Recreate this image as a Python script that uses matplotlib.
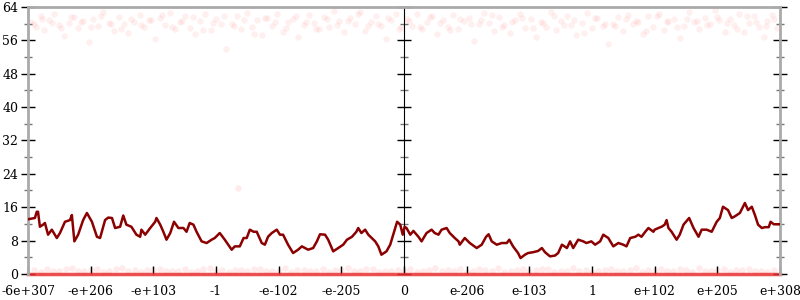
import matplotlib
matplotlib.use('Agg')
import matplotlib.pyplot as plt
from matplotlib.ticker import MultipleLocator

plt.rcParams['font.family'] = ['DejaVu Serif']
plt.rcParams['font.size'] = 9

# tick positions along the x scale and their labels
tick_pos = [-6, -5, -4, -3, -2, -1, 0, 1, 2, 3, 4, 5, 6]
tick_labels = ['-6e+307', '-e+206', '-e+103', '-1', '-e-102', '-e-205', '0',
               'e-206', 'e-103', '1', 'e+102', 'e+205', 'e+308']

# running line
line_x = [-6.00, -5.89, -5.86, -5.84, -5.81, -5.76, -5.73, -5.68, -5.62, -5.54, -5.49, -5.41,
          -5.33, -5.30, -5.26, -5.20, -5.12, -5.06, -4.98, -4.90, -4.85, -4.77, -4.72, -4.66,
          -4.61, -4.53, -4.48, -4.43, -4.35, -4.27, -4.21, -4.19, -4.13, -4.05, -3.97, -3.95,
          -3.89, -3.84, -3.79, -3.73, -3.67, -3.60, -3.52, -3.47, -3.42, -3.36, -3.31, -3.23,
          -3.15, -3.07, -3.02, -2.94, -2.86, -2.75, -2.70, -2.62, -2.56, -2.51, -2.46, -2.40,
          -2.35, -2.27, -2.22, -2.17, -2.11, -2.03, -1.98, -1.93, -1.85, -1.77, -1.69, -1.63,
          -1.58, -1.53, -1.45, -1.39, -1.34, -1.26, -1.21, -1.13, -1.05, -0.97, -0.91, -0.83,
          -0.76, -0.73, -0.68, -0.62, -0.57, -0.46, -0.41, -0.36, -0.28, -0.22, -0.14, -0.11,
          -0.06, -0.02, 0.01, 0.04, 0.10, 0.15, 0.23, 0.28, 0.36, 0.44, 0.49, 0.55,
          0.60, 0.68, 0.73, 0.81, 0.87, 0.89, 0.97, 1.05, 1.16, 1.24, 1.31, 1.35,
          1.40, 1.48, 1.56, 1.64, 1.68, 1.74, 1.82, 1.86, 1.93, 1.98, 2.06, 2.14,
          2.20, 2.25, 2.33, 2.41, 2.46, 2.52, 2.60, 2.65, 2.70, 2.78, 2.86, 2.91,
          2.99, 3.05, 3.13, 3.18, 3.26, 3.34, 3.42, 3.50, 3.55, 3.61, 3.69, 3.74,
          3.79, 3.85, 3.90, 3.98, 4.00, 4.06, 4.11, 4.16, 4.19, 4.22, 4.27, 4.35,
          4.40, 4.46, 4.55, 4.62, 4.70, 4.75, 4.83, 4.91, 4.99, 5.04, 5.09, 5.17,
          5.23, 5.28, 5.36, 5.44, 5.49, 5.55, 5.60, 5.65, 5.71, 5.76, 5.82, 5.85,
          5.90, 5.97, 6.00]
line_y = [13.1, 13.4, 14.9, 14.9, 11.3, 11.8, 12.2, 9.4, 10.6, 8.6, 9.8, 12.5,
          12.9, 14.1, 7.8, 9.4, 12.9, 14.6, 12.5, 8.9, 8.6, 12.9, 13.5, 13.4,
          11.0, 11.3, 14.0, 11.8, 11.3, 9.4, 8.9, 10.6, 9.4, 11.0, 12.5, 13.4,
          11.8, 10.1, 8.2, 9.8, 12.5, 11.0, 11.0, 10.1, 12.2, 11.8, 10.1, 7.8,
          7.4, 8.2, 8.6, 9.8, 8.2, 5.8, 6.6, 6.6, 8.6, 8.6, 10.6, 10.1,
          10.1, 7.4, 7.0, 8.9, 9.8, 10.6, 9.4, 9.4, 7.0, 5.0, 5.8, 6.6,
          6.2, 5.8, 6.2, 7.8, 9.5, 9.4, 8.2, 5.4, 6.2, 7.0, 8.2, 8.9,
          10.1, 11.0, 9.8, 10.6, 9.4, 7.8, 6.6, 4.6, 5.4, 7.0, 11.0, 12.5,
          11.8, 9.4, 11.3, 11.0, 9.4, 10.3, 8.9, 7.8, 9.8, 10.6, 9.8, 9.4,
          10.6, 11.0, 9.8, 8.6, 7.8, 7.0, 8.6, 7.4, 6.2, 7.0, 8.9, 9.5,
          7.8, 7.0, 7.4, 7.4, 8.2, 6.6, 5.0, 3.8, 4.6, 5.0, 5.2, 5.5,
          6.2, 5.2, 4.2, 4.4, 5.0, 7.0, 6.2, 7.8, 6.2, 8.2, 7.8, 7.4,
          7.8, 7.0, 7.8, 9.4, 8.6, 6.6, 7.4, 7.0, 6.6, 8.6, 8.9, 9.4,
          8.9, 10.1, 11.0, 10.1, 10.6, 11.0, 11.3, 11.8, 12.9, 11.0, 10.1, 8.2,
          9.4, 11.8, 13.4, 11.0, 8.9, 10.6, 10.6, 10.1, 12.5, 13.4, 16.1, 15.3,
          13.4, 13.8, 14.6, 17.0, 15.3, 16.1, 14.1, 11.8, 11.0, 11.2, 11.2, 12.5,
          11.9, 11.9, 11.9]

# faint cloud of points near the top
top_x = [-5.95, -5.88, -5.80, -5.74, -5.66, -5.58, -5.50, -5.43, -5.35, -5.27,
         -5.20, -5.12, -5.03, -4.96, -4.88, -4.80, -4.71, -4.63, -4.55, -4.47,
         -4.40, -4.31, -4.22, -4.15, -4.07, -3.98, -3.90, -3.82, -3.73, -3.66,
         -3.58, -3.50, -3.41, -3.33, -3.25, -3.17, -3.08, -3.00, -2.92, -2.84,
         -2.75, -2.67, -2.60, -2.51, -2.43, -2.35, -2.26, -2.18, -2.10, -2.02,
         -1.93, -1.85, -1.77, -1.69, -1.60, -1.52, -1.44, -1.36, -1.27, -1.19,
         -1.11, -1.03, -0.95, -0.86, -0.78, -0.70, -0.62, -0.53, -0.45, -0.37,
         -0.29, -0.20, -0.12, -0.04,
         0.04, 0.12, 0.20, 0.29, 0.37, 0.45, 0.53, 0.62, 0.70, 0.78,
         0.86, 0.95, 1.03, 1.11, 1.19, 1.27, 1.36, 1.44, 1.52, 1.60,
         1.69, 1.77, 1.85, 1.93, 2.02, 2.10, 2.18, 2.26, 2.35, 2.43,
         2.51, 2.60, 2.67, 2.75, 2.84, 2.92, 3.00, 3.08, 3.17, 3.25,
         3.33, 3.41, 3.50, 3.58, 3.66, 3.73, 3.82, 3.90, 3.98, 4.07,
         4.15, 4.22, 4.31, 4.40, 4.47, 4.55, 4.63, 4.71, 4.80, 4.88,
         4.96, 5.03, 5.12, 5.20, 5.27, 5.35, 5.43, 5.50, 5.58, 5.66,
         5.74, 5.80, 5.88, 5.95]
top_y = [60.5, 59.2, 61.8, 58.4, 60.9, 62.3, 59.7, 57.1, 60.2, 61.5,
         58.9, 60.7, 55.6, 61.2, 59.4, 62.8, 60.1, 58.2, 61.6, 59.9,
         57.8, 60.4, 62.1, 59.1, 60.8, 56.4, 61.3, 59.6, 62.5, 58.7,
         60.3, 61.9, 59.0, 57.5, 60.6, 62.4, 58.5, 61.1, 59.8, 53.9,
         60.0, 61.7, 58.8, 62.6, 59.3, 60.9, 57.3, 61.4, 59.5, 62.2,
         58.1, 60.5, 61.0, 56.9, 59.7, 62.0, 60.2, 58.6, 61.6, 59.2,
         63.1, 60.7, 57.9, 61.3, 59.9, 62.7, 58.3, 60.4, 61.8, 59.4,
         56.2, 60.8, 62.3, 59.1,
         61.2, 59.5, 62.4, 58.6, 60.3, 61.7, 57.4, 60.9, 59.2, 62.1,
         58.8, 60.6, 61.4, 55.9, 59.8, 62.6, 60.1, 58.3, 61.5, 59.6,
         57.7, 60.8, 62.2, 59.0, 61.1, 56.7, 60.4, 59.3, 62.8, 58.5,
         60.7, 61.9, 59.7, 57.2, 60.2, 62.5, 58.9, 61.3, 59.4, 55.1,
         60.0, 61.6, 58.2, 62.0, 59.9, 60.5, 57.6, 61.8, 59.1, 62.3,
         58.4, 60.6, 61.2, 56.5, 59.5, 62.7, 60.3, 58.7, 61.4, 59.8,
         63.2, 60.9, 57.9, 61.0, 59.6, 62.4, 58.1, 60.2, 61.7, 59.3,
         56.8, 60.7, 62.1, 59.0]
# second pass of the same cloud, between the first pass positions
top2_x = [-5.91, -5.77, -5.62, -5.47, -5.31, -5.16, -5.00, -4.84, -4.67, -4.51,
          -4.35, -4.19, -4.03, -3.86, -3.70, -3.54, -3.37, -3.21, -3.04, -2.88,
          -2.71, -2.55, -2.39, -2.22, -2.06, -1.89, -1.73, -1.56, -1.40, -1.23,
          -1.07, -0.90, -0.74, -0.57, -0.41, -0.25, -0.08,
          0.08, 0.25, 0.41, 0.57, 0.74, 0.90, 1.07, 1.23, 1.40, 1.56,
          1.73, 1.89, 2.06, 2.22, 2.39, 2.55, 2.71, 2.88, 3.04, 3.21,
          3.37, 3.54, 3.70, 3.86, 4.03, 4.19, 4.35, 4.51, 4.67, 4.84,
          5.00, 5.16, 5.31, 5.47, 5.62, 5.77, 5.91]
top2_y = [59.8, 61.1, 60.2, 58.9, 61.6, 60.4, 59.3, 61.9, 60.0, 58.6,
          61.2, 59.7, 60.8, 62.0, 59.1, 60.6, 61.5, 58.4, 60.1, 61.8,
          59.5, 60.9, 57.6, 61.3, 60.3, 59.0, 61.7, 60.5, 58.8, 61.0,
          59.6, 60.7, 62.2, 59.4, 60.0, 61.4, 58.7,
          60.6, 59.2, 61.6, 60.1, 58.5, 61.1, 59.9, 60.8, 62.1, 59.3,
          60.4, 61.3, 58.9, 60.2, 61.8, 59.7, 60.9, 57.8, 61.4, 60.0,
          59.4, 61.0, 60.6, 58.3, 61.7, 60.3, 59.1, 61.2, 60.7, 59.6,
          61.5, 60.1, 58.8, 61.9, 60.4, 59.5, 61.1]

# faint points just above zero
low_x = [-5.9, -5.7, -5.5, -5.3, -5.1, -4.9, -4.7, -4.5, -4.3, -4.1,
         -3.9, -3.7, -3.5, -3.3, -3.1, -2.9, -2.7, -2.5, -2.3, -2.1,
         -1.9, -1.7, -1.5, -1.3, -1.1, -0.9, -0.7, -0.5, -0.3, -0.1,
         0.1, 0.3, 0.5, 0.7, 0.9, 1.1, 1.3, 1.5, 1.7, 1.9,
         2.1, 2.3, 2.5, 2.7, 2.9, 3.1, 3.3, 3.5, 3.7, 3.9,
         4.1, 4.3, 4.5, 4.7, 4.9, 5.1, 5.3, 5.5, 5.7, 5.9, -2.65]
low_y = [0.9, 1.2, 0.7, 1.4, 0.8, 1.1, 0.6, 1.3, 0.9, 1.0,
         1.2, 0.7, 1.1, 0.8, 1.4, 0.9, 1.0, 0.6, 1.2, 0.8,
         1.3, 0.9, 0.7, 1.1, 1.0, 1.4, 0.8, 1.2, 0.6, 1.0,
         1.1, 0.8, 1.3, 0.9, 1.2, 0.7, 1.0, 1.4, 0.8, 1.1,
         0.9, 1.2, 0.6, 1.3, 1.0, 0.8, 1.1, 0.7, 1.4, 0.9,
         1.2, 0.8, 1.0, 1.3, 0.7, 1.1, 0.9, 1.2, 0.8, 1.0, 20.6]
low2_x = [-5.8, -5.6, -5.4, -5.2, -5.0, -4.8, -4.6, -4.4, -4.2, -4.0,
          -3.8, -3.6, -3.4, -3.2, -3.0, -2.8, -2.6, -2.4, -2.2, -2.0,
          -1.8, -1.6, -1.4, -1.2, -1.0, -0.8, -0.6, -0.4, -0.2, 0.0,
          0.2, 0.4, 0.6, 0.8, 1.0, 1.2, 1.4, 1.6, 1.8, 2.0,
          2.2, 2.4, 2.6, 2.8, 3.0, 3.2, 3.4, 3.6, 3.8, 4.0,
          4.2, 4.4, 4.6, 4.8, 5.0, 5.2, 5.4, 5.6, 5.8]
low2_y = [0.5, 0.8, 1.1, 0.6, 0.9, 0.4, 1.2, 0.7, 0.5, 1.0,
          0.8, 0.6, 0.4, 1.1, 0.7, 0.5, 0.9, 1.2, 0.6, 0.8,
          0.4, 1.0, 0.7, 0.5, 0.9, 0.6, 1.1, 0.4, 0.8, 0.7,
          0.5, 1.0, 0.6, 0.8, 0.4, 1.2, 0.7, 0.5, 0.9, 0.6,
          1.1, 0.4, 0.8, 0.7, 0.5, 1.0, 0.6, 0.9, 0.4, 0.8,
          0.7, 1.1, 0.5, 0.6, 0.9, 0.4, 1.0, 0.7, 0.5]
floor_value = 0

fig = plt.figure(figsize=(8, 3), dpi=100)
ax = fig.add_axes([0.035, 0.087, 0.94, 0.89])
ax.set_xlim(-6, 6)
ax.set_ylim(0, 64)

ax.scatter(top_x, top_y, s=22, color='red', alpha=0.06, linewidths=0, zorder=1)
ax.scatter(top2_x, top2_y, s=22, color='red', alpha=0.06, linewidths=0, zorder=1)
ax.scatter(low_x, low_y, s=22, color='red', alpha=0.08, linewidths=0, zorder=1, clip_on=False)
ax.scatter(low2_x, low2_y, s=22, color='red', alpha=0.08, linewidths=0, zorder=1, clip_on=False)
ax.axhline(floor_value, color='#e83030', lw=2.5, alpha=0.85, zorder=2, clip_on=False)
ax.plot(line_x, line_y, color='#8b0000', lw=1.8, zorder=3)

for s in ['left', 'right', 'top']:
    ax.spines[s].set_color('#aaaaaa')
    ax.spines[s].set_linewidth(2)
ax.spines['bottom'].set_visible(False)

ax.yaxis.set_major_locator(MultipleLocator(8))
ax.yaxis.set_minor_locator(MultipleLocator(4))
ax.tick_params(axis='y', which='major', direction='inout', length=10, width=1,
               color='black', left=True, right=True, labelleft=True, labelright=False, pad=2)
ax.tick_params(axis='y', which='minor', direction='inout', length=6, width=1,
               color='#777777', left=True, right=True)

ax.set_xticks(tick_pos)
ax.set_xticklabels(tick_labels)
ax.tick_params(axis='x', which='major', direction='in', length=6, width=1,
               color='black', pad=8)

# middle axis at x = 0
mid = ax.secondary_yaxis(0.5)
mid.spines['left'].set_color('#aaaaaa')
mid.spines['left'].set_linewidth(2)
mid.yaxis.set_major_locator(MultipleLocator(8))
mid.yaxis.set_minor_locator(MultipleLocator(4))
mid.tick_params(axis='y', which='major', direction='inout', length=10, width=1,
                color='black', labelleft=False, labelright=False)
mid.tick_params(axis='y', which='minor', direction='inout', length=6, width=1,
                color='#777777')

fig.savefig('out.png', dpi=100)
